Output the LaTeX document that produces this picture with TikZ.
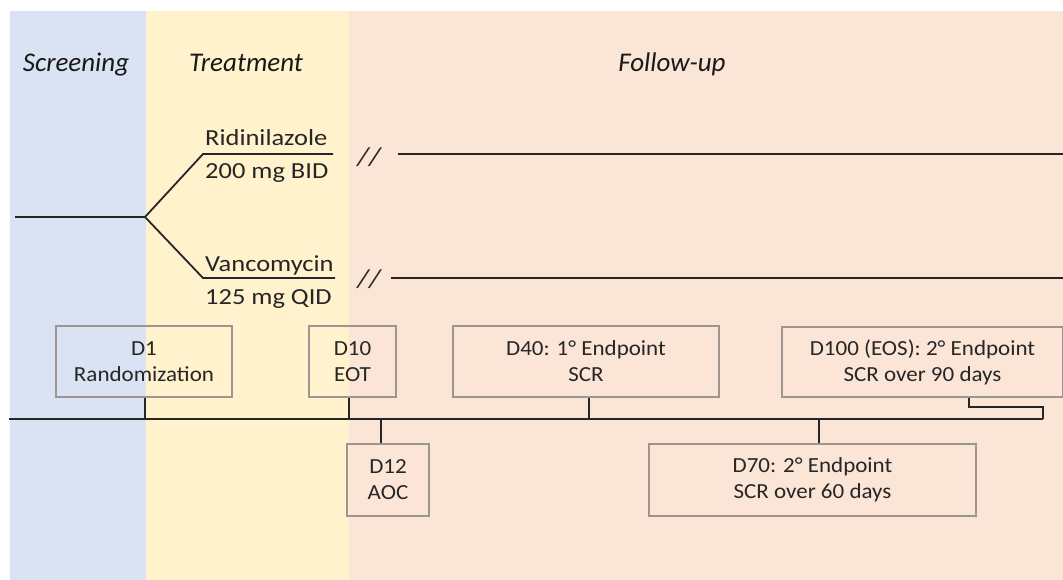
\documentclass[tikz,border=0pt]{standalone}
\usepackage{fontspec}
\setmainfont{Carlito}
\newfontfamily\armfont{Carlito}[FakeStretch=1.15]
\newfontfamily\evfont{Carlito}[FakeStretch=1.07]
\definecolor{scrblue}{HTML}{DAE3F3}
\definecolor{trtyellow}{HTML}{FFF2CC}
\definecolor{fupeach}{HTML}{FBE5D6}
\definecolor{boxgray}{HTML}{9C9590}
\definecolor{linedark}{HTML}{262626}
\tikzset{
  phase/.style={font=\fontsize{27}{30}\selectfont\itshape, inner sep=0pt, anchor=base, text=black!90},
  armtext/.style={font=\armfont\fontsize{23}{26}\selectfont, inner sep=0pt, anchor=base west, text=black!85},
  slashes/.style={font=\armfont\fontsize{26}{28}\selectfont\itshape, inner sep=0pt, text=black!85},
  evbox/.style={draw=boxgray, line width=1.3pt, align=center, inner sep=0pt,
    font=\evfont\fontsize{21.5}{26}\selectfont, text=black!85},
  conn/.style={draw=linedark, line width=1.8pt},
  tick/.style={draw=linedark, line width=1.6pt}
}
\begin{document}
\begin{tikzpicture}[x=1pt,y=-1pt]
\useasboundingbox (0,0) rectangle (1063,580);
% backgrounds
\fill[white] (0,0) rectangle (1063,580);
\fill[scrblue] (10,11) rectangle (146,580);
\fill[trtyellow] (146,11) rectangle (349,580);
\fill[fupeach] (349,11) rectangle (1063,580);
% phase labels
\node[phase] (scr) at (76,72) {Screening};
\node[phase] (trt) at (246,72) {Treatment};
\node[phase] (fu) at (672,72) {Follow-up};
% arms
\coordinate (start) at (15,217);
\coordinate (fork) at (145,217);
\coordinate (upk) at (203,154);
\coordinate (upe) at (333,154);
\coordinate (lok) at (203,278);
\coordinate (loe) at (335,278);
\draw[conn] (start) -- (fork) -- (upk) -- (upe);
\draw[conn] (fork) -- (lok) -- (loe);
\node[armtext] (ridi) at (205,146) {Ridinilazole};
\node[armtext] (ridid) at (205,179) {200 mg BID};
\node[armtext] (vanc) at (205,272) {Vancomycin};
\node[armtext] (vancd) at (205,304) {125 mg QID};
\node[slashes] (sl1) at (369,157) {//};
\node[slashes] (sl2) at (369,279) {//};
\coordinate (fu1s) at (398,154);
\coordinate (fu1e) at (1063,154);
\coordinate (fu2s) at (391,278);
\coordinate (fu2e) at (1063,278);
\draw[conn] (fu1s) -- (fu1e);
\draw[conn] (fu2s) -- (fu2e);
% timeline
\coordinate (tlL) at (9,419);
\coordinate (tlR) at (1043,419);
\draw[conn] (tlL) -- (tlR);
% event boxes
\node[evbox, minimum width=176pt, minimum height=71pt] (d1) at (144,361.5) {D1\\Randomization};
\node[evbox, minimum width=87pt, minimum height=71pt] (d10) at (352.5,361.5) {D10\\EOT};
\node[evbox, minimum width=266pt, minimum height=71pt] (d40) at (586,361.5) {D40: 1° Endpoint\\SCR};
\node[evbox, minimum width=281pt, minimum height=70pt] (d100) at (922.5,362) {D100 (EOS): 2° Endpoint\\SCR over 90 days};
\node[evbox, minimum width=82pt, minimum height=72pt] (d12) at (388,480) {D12\\AOC};
\node[evbox, minimum width=327pt, minimum height=72pt] (d70) at (812.5,480) {D70: 2° Endpoint\\SCR over 60 days};
% ticks
\coordinate (t1) at (145,419);
\coordinate (t10) at (349,419);
\coordinate (t12) at (381,419);
\coordinate (t40) at (589,419);
\coordinate (t70) at (819,419);
\draw[tick] (t1) -- (t1 |- d1.south);
\draw[tick] (t10) -- (t10 |- d10.south);
\draw[tick] (t40) -- (t40 |- d40.south);
\draw[tick] (t12) -- (t12 |- d12.north);
\draw[tick] (t70) -- (t70 |- d70.north);
\coordinate (b1) at (969,407);
\draw[tick] (b1 |- d100.south) -- (b1) -| (tlR);
\end{tikzpicture}
\end{document}
